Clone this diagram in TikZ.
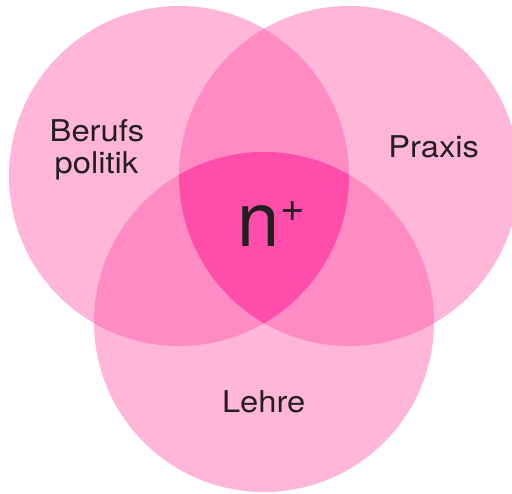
\documentclass[tikz,border=0pt]{standalone}
\usepackage{fontspec}
\setmainfont{TeX Gyre Heros}[FakeStretch=1.09]
\newfontfamily\plainheros{TeX Gyre Heros}
\definecolor{pinkA}{HTML}{FFB6D9}
\definecolor{pinkB}{HTML}{FF8BC5}
\definecolor{pinkC}{HTML}{FF4DAA}
\definecolor{ink}{HTML}{231F20}
\begin{document}
\begin{tikzpicture}[x=1pt,y=1pt,
  lbl/.style={text=ink,inner sep=0pt,font=\fontsize{30}{32}\selectfont,anchor=base}]
\useasboundingbox (0,0) rectangle (512,494);
\coordinate (cl) at (179,318);
\coordinate (cr) at (349,318);
\coordinate (cb) at (264,172);
\def\R{170}
% single
\fill[pinkA] (cl) circle (\R);
\fill[pinkA] (cr) circle (\R);
\fill[pinkA] (cb) circle (\R);
% pairs
\begin{scope}\clip (cl) circle (\R); \fill[pinkB] (cr) circle (\R); \fill[pinkB] (cb) circle (\R);\end{scope}
\begin{scope}\clip (cr) circle (\R); \fill[pinkB] (cb) circle (\R);\end{scope}
% triple
\begin{scope}\clip (cl) circle (\R); \clip (cr) circle (\R); \fill[pinkC] (cb) circle (\R);\end{scope}
% labels
\node[lbl] (berufs) at (97,352.3) {Berufs};
\node[lbl] (politik) at (96.5,320.7) {politik};
\node[lbl] (praxis) at (433.7,336) {Praxis};
\node[lbl] (lehre) at (263.7,81.3) {Lehre};
\node[text=ink,inner sep=0pt,anchor=base,font=\plainheros\fontsize{76}{76}\selectfont] (nplus) at (271,247.3) {n\kern1pt\raisebox{25pt}{\fontsize{42}{42}\selectfont +}};
\end{tikzpicture}
\end{document}
